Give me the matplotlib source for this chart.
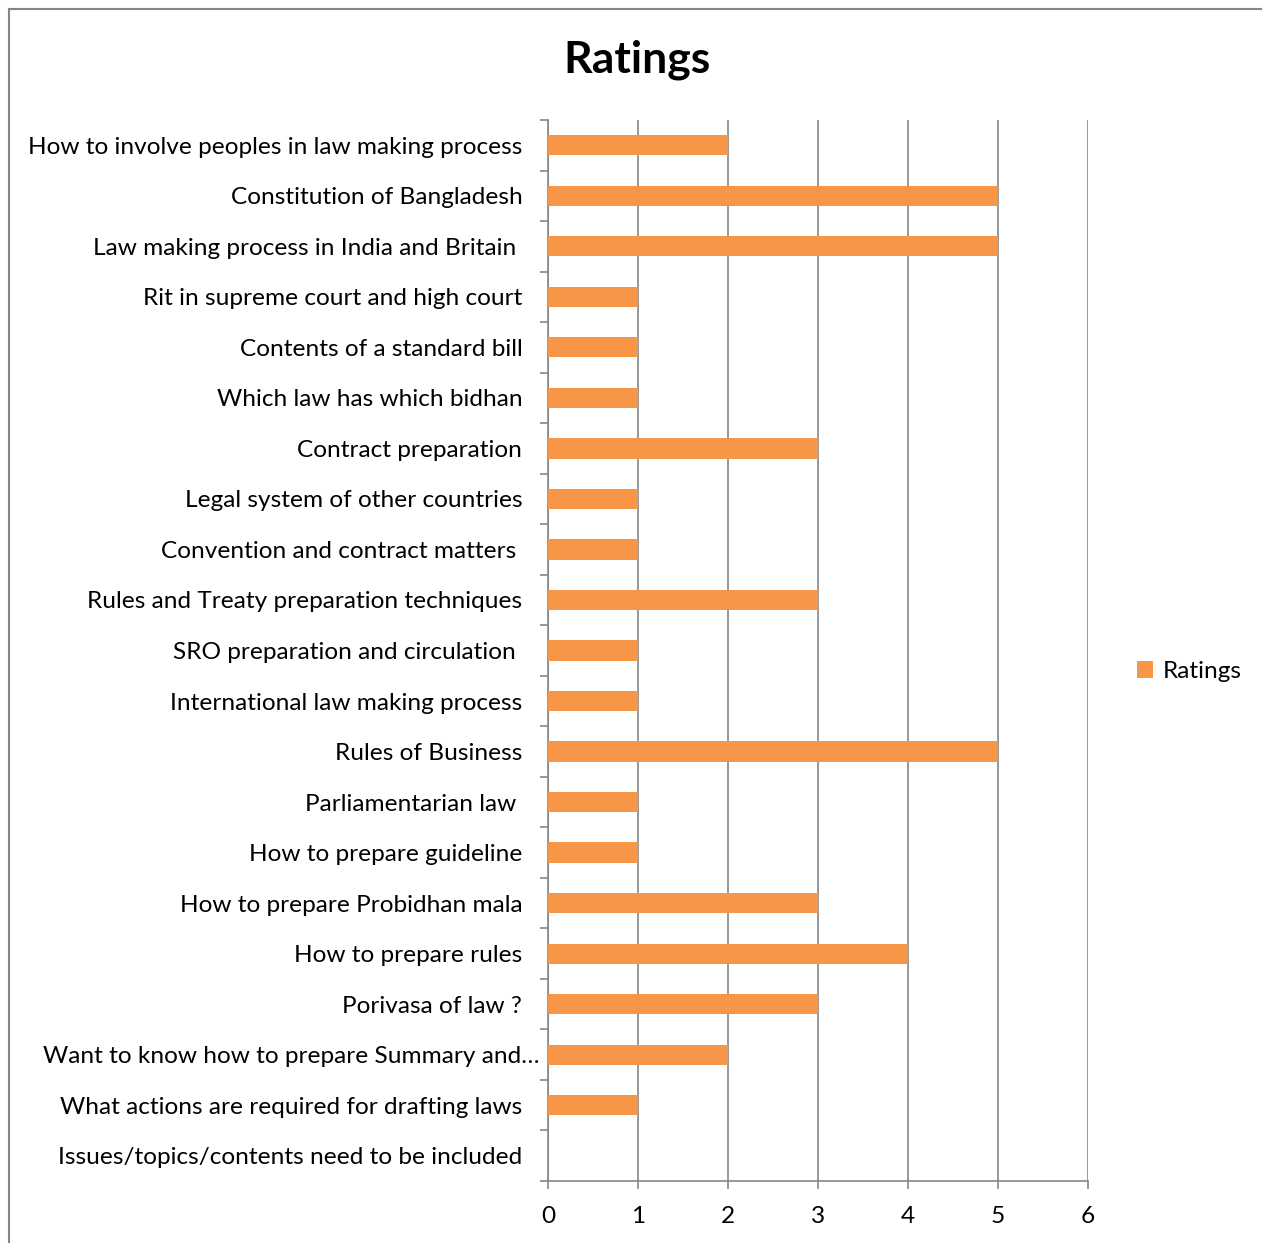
import matplotlib
matplotlib.use('Agg')
import matplotlib.pyplot as plt
from matplotlib.patches import Rectangle
from matplotlib.transforms import ScaledTranslation

plt.rcParams['font.family'] = ['Lato', 'DejaVu Sans']

# topics listed bottom to top, as they sit on the y axis
topics = [
    'Issues/topics/contents need to be included',
    'What actions are required for drafting laws',
    'Want to know how to prepare Summary and\u2026',
    'Porivasa of law ?',
    'How to prepare rules',
    'How to prepare Probidhan mala',
    'How to prepare guideline',
    'Parliamentarian law ',
    'Rules of Business',
    'International law making process',
    'SRO preparation and circulation ',
    'Rules and Treaty preparation techniques',
    'Convention and contract matters ',
    'Legal system of other countries',
    'Contract preparation',
    'Which law has which bidhan',
    'Contents of a standard bill',
    'Rit in supreme court and high court',
    'Law making process in India and Britain ',
    'Constitution of Bangladesh',
    'How to involve peoples in law making process',
]
ratings = [0, 1, 2, 3, 4, 3, 1, 1, 5, 1, 1, 3, 1, 1, 3, 1, 1, 1, 5, 5, 2]
xticks = [0, 1, 2, 3, 4, 5, 6]

orange = '#F79646'
grey = '#868686'

fig = plt.figure(figsize=(12.62, 12.43), dpi=100)
fig.patches.append(Rectangle((8.5 / 1262, -0.01), 1.1, 1 - 8.5 / 1243 + 0.01,
                             transform=fig.transFigure, fill=False,
                             edgecolor=grey, linewidth=1.5))

ax = fig.add_axes([548 / 1262, 62 / 1243, 540 / 1262, 1061 / 1243])
pos = list(range(len(topics)))
ax.barh(pos, ratings, height=0.4, color=orange, zorder=3, label='Ratings')

ax.set_xlim(0, 6)
ax.set_ylim(-0.5, len(topics) - 0.5)
ax.set_xticks(xticks)
ax.set_yticks([p - 0.5 for p in pos] + [len(topics) - 0.5])
ax.set_yticklabels([])
ax.set_yticks(pos, minor=True)
ax.set_yticklabels(topics, minor=True, fontsize=17.6)
ax.tick_params(axis='y', which='minor', length=0, pad=18.5)
ax.tick_params(axis='y', which='major', length=6, color=grey, width=1.2)
ax.tick_params(axis='x', length=6, color=grey, width=1.2, labelsize=17.6, pad=12)

# the cut-off label runs closer to the axis
lbl = ax.get_yticklabels(minor=True)[2]
lbl.set_transform(lbl.get_transform() + ScaledTranslation(0.17, 0, fig.dpi_scale_trans))

ax.grid(axis='x', color=grey, linewidth=1.2, zorder=0)
for side in ['top', 'right']:
    ax.spines[side].set_visible(False)
for side in ['left', 'bottom']:
    ax.spines[side].set_color(grey)
    ax.spines[side].set_linewidth(1.2)

fig.text(637 / 1262, 1 - 60 / 1243, 'Ratings', ha='center', va='center',
         fontsize=32, fontweight='bold')

ax.legend(loc='center left', bbox_to_anchor=(1.05, 0.48), frameon=False,
          fontsize=17.6, handlelength=0.65, handleheight=0.65, handletextpad=0.4)

fig.savefig('out.png', dpi=100)
